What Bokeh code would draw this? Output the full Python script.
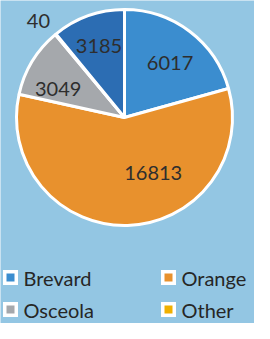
import math
from bokeh.plotting import figure
from bokeh.models import ColumnDataSource
from bokeh.core.properties import value
from bokeh.embed import file_html
from bokeh.resources import INLINE

# data (clockwise from 12 o'clock)
categories = ["Brevard", "Orange", "Osceola", "Other", "Seminole"]
values = [6017, 16813, 3049, 40, 3185]
colors = ["#3b8dcf", "#e8912d", "#a5a8ac", "#f0b000", "#2c6db3"]
legend_names = ["Brevard", "Orange", "Osceola", "Other"]

# layout / style
W, H = 254, 323
BG = "#93c6e3"
CX, CY, R = 124, 206, 108
label_r = [0.66, 0.58, 0.67, 1.2, 0.70]
label_da = [2.5, -25.7, -7.7, -2.0, 0.0]
FONT = "Lato"

total = sum(values)
starts, ends, lx, ly = [], [], [], []
acc = 0.0
for v, rf, da in zip(values, label_r, label_da):
    a0 = acc / total * 360.0
    acc += v
    a1 = acc / total * 360.0
    # clockwise-from-top degrees -> math radians
    starts.append(math.radians(90 - a0))
    ends.append(math.radians(90 - a1))
    mid = (a0 + a1) / 2 + da
    lx.append(CX + rf * R * math.sin(math.radians(mid)))
    ly.append(CY + rf * R * math.cos(math.radians(mid)))

p = figure(width=W, height=H, x_range=(0, W), y_range=(0, H),
           output_backend="svg", toolbar_location=None,
           min_border=0, background_fill_color=BG, border_fill_color=BG)
p.axis.visible = False
p.grid.visible = False
p.outline_line_color = None

src = ColumnDataSource(dict(start=starts, end=ends, color=colors,
                            lx=lx, ly=ly, txt=[str(v) for v in values]))
p.wedge(x=CX, y=CY, radius=R, start_angle="start", end_angle="end",
        direction="clock", fill_color="color", line_color="white",
        line_width=3, source=src)
p.text(x="lx", y="ly", text="txt", source=src, text_font=value(FONT),
       text_font_size="20px", text_color="#2e2e2e", text_align="center",
       text_baseline="middle")

# legend (2 columns)
col_x = [10, 168]
row_y = [46, 14]
mx, my, mc, tx = [], [], [], []
for i, name in enumerate(legend_names):
    x = col_x[i % 2]
    y = row_y[i // 2]
    mx.append(x)
    my.append(y)
    mc.append(colors[categories.index(name)])
    tx.append(x + 13)
lsrc = ColumnDataSource(dict(x=mx, y=my, c=mc, tx=tx, t=legend_names))
p.rect(x="x", y="y", width=15, height=15, fill_color="white",
       line_color=None, source=lsrc)
p.rect(x="x", y="y", width=8, height=8, fill_color="c",
       line_color=None, source=lsrc)
p.text(x="tx", y="y", text="t", source=lsrc, text_font=value(FONT),
       text_font_size="20px", text_color="#262626", text_align="left",
       text_baseline="middle")

open("out.html", "w").write(file_html(p, INLINE))
